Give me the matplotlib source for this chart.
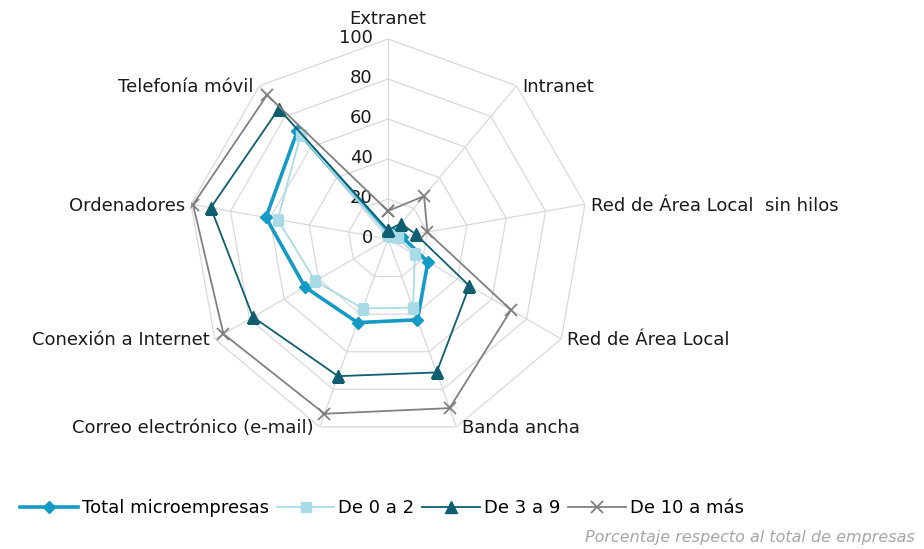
import numpy as np
import matplotlib.pyplot as plt

categories = ["Extranet", "Intranet", "Red de Área Local  sin hilos", "Red de Área Local",
              "Banda ancha", "Correo electrónico (e-mail)", "Conexión a Internet",
              "Ordenadores", "Telefonía móvil"]
total = [3, 4, 7, 23, 43, 44.5, 48, 62, 70.5]
de_0_2 = [2, 2, 5, 15.5, 36.5, 37, 42, 56, 68]
de_3_9 = [4.5, 10, 14, 47, 71, 73, 78, 90, 85]
de_10 = [14, 28, 20, 71, 90, 93, 95, 99, 94]
series_names = ["Total microempresas", "De 0 a 2", "De 3 a 9", "De 10 a más"]
ticks = [0, 20, 40, 60, 80, 100]

plt.rcParams['font.family'] = 'DejaVu Sans'
fs = 13
fig = plt.figure(figsize=(9.24, 5.49), dpi=100)
ax = fig.add_axes([0.2035, 0.2004, 0.4329, 0.7286], projection='polar')
ax.set_theta_zero_location('N')
ax.set_theta_direction(-1)
ax.set_ylim(0, 100)
ax.grid(False)
ax.spines['polar'].set_visible(False)
ax.set_xticks([])
ax.set_yticks([])
ax.patch.set_alpha(0)

n = len(categories)
theta = np.arange(n) * 2 * np.pi / n
closed = np.append(theta, theta[0])

# polygon grid and spokes
for t in ticks[1:]:
    ax.plot(closed, [t] * (n + 1), color='#d9d9d9', lw=0.9, zorder=1)
for th in theta:
    ax.plot([th, th], [0, 100], color='#d9d9d9', lw=0.9, zorder=1)

for t in ticks:
    ax.annotate(str(t), xy=(0, t), xytext=(-11, 1), textcoords='offset points',
                ha='right', va='center', fontsize=fs, color='#1a1a1a')

for th, lab in zip(theta, categories):
    s = np.sin(th)
    if abs(s) < 0.01:
        ax.text(th, 110, lab, ha='center', va='center', fontsize=fs, color='#1a1a1a')
    else:
        ax.annotate(lab, xy=(th, 100), xytext=(4 * np.sign(s), -1), textcoords='offset points',
                    ha='left' if s > 0 else 'right', va='center', fontsize=fs, color='#1a1a1a')

styles = [
    dict(color='#139ac6', lw=2.6, marker='D', ms=6),
    dict(color='#a9dbe6', lw=1.3, marker='s', ms=7),
    dict(color='#0d5e70', lw=1.3, marker='^', ms=8),
    dict(color='#808080', lw=1.3, marker='x', ms=9, mew=1.3),
]
handles = []
for vals, name, st in zip([total, de_0_2, de_3_9, de_10], series_names, styles):
    v = np.append(vals, vals[0])
    h, = ax.plot(closed, v, label=name, zorder=3, **st)
    handles.append(h)

fig.legend(handles=handles, loc='lower left', bbox_to_anchor=(0.014, 0.045), ncol=4,
           frameon=False, fontsize=fs, handlelength=3.2, handletextpad=0.2,
           columnspacing=0.45, borderaxespad=0)

fig.text(0.99, 0.008, "Porcentaje respecto al total de empresas", ha='right', va='bottom',
         fontsize=11.5, style='italic', color='#a6a6a6')

fig.savefig("out.png", dpi=100)
